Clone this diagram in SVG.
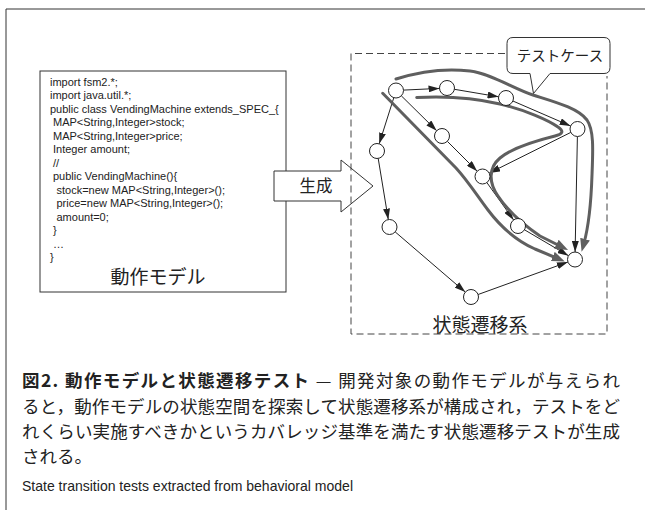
<svg xmlns="http://www.w3.org/2000/svg" width="645" height="510" viewBox="0 0 645 510">
<style>
.frame{fill:none;stroke:#333;stroke-width:1}
.code{font-family:"Liberation Sans",Arial,sans-serif;font-size:11px;fill:#222}
.jp{font-family:"Noto Sans CJK JP",sans-serif;fill:#222}
.node{fill:#fff;stroke:#222;stroke-width:1}
.edge{fill:none;stroke:#222;stroke-width:1;marker-end:url(#ah)}
.tc{fill:none;stroke:#5f5f5f;stroke-width:3;stroke-linecap:round;stroke-linejoin:round;marker-end:url(#gh)}
.dash{fill:none;stroke:#444;stroke-width:1;stroke-dasharray:7 4}
</style>
<defs>
<marker id="ah" markerUnits="userSpaceOnUse" viewBox="0 0 11 7" markerWidth="11" markerHeight="7" refX="11" refY="3.5" orient="auto">
<path d="M0,0 L11,3.5 L0,7 z" fill="#222"/>
</marker>
<marker id="gh" markerUnits="userSpaceOnUse" viewBox="0 0 13 10" markerWidth="13" markerHeight="10" refX="4" refY="5" orient="auto">
<path d="M0,0 L13,5 L0,10 z" fill="#5f5f5f"/>
</marker>
</defs>

<g id="outer-frame">
<path class="frame" d="M6,510 V9 H645"/>
</g>

<g id="behavior-model">
<rect class="frame" x="40" y="71" width="246" height="221" fill="#fff"/>
<text class="code" x="50" y="85.5">import fsm2.*;</text>
<text class="code" x="50" y="99">import java.util.*;</text>
<text class="code" x="50" y="112.5">public class VendingMachine extends_SPEC_{</text>
<text class="code" x="53" y="126">MAP&lt;String,Integer&gt;stock;</text>
<text class="code" x="53" y="139.5">MAP&lt;String,Integer&gt;price;</text>
<text class="code" x="53" y="153">Integer amount;</text>
<text class="code" x="53" y="166.5">//</text>
<text class="code" x="53" y="180">public VendingMachine(){</text>
<text class="code" x="56.5" y="193.5">stock=new MAP&lt;String,Integer&gt;();</text>
<text class="code" x="56.5" y="207">price=new MAP&lt;String,Integer&gt;();</text>
<text class="code" x="56.5" y="220.5">amount=0;</text>
<text class="code" x="53" y="234">}</text>
<text class="code" x="53" y="247.5">…</text>
<text class="code" x="50" y="261">}</text>
<text class="jp" x="158" y="284" font-size="19" text-anchor="middle">動作モデル</text>
</g>

<g id="generate-arrow">
<polygon points="274,171 341,171 341,160 373,186 341,212 341,201 274,201" fill="#fff" stroke="#333" stroke-width="1"/>
<text class="jp" x="316" y="192" font-size="16.5" text-anchor="middle">生成</text>
</g>

<g id="state-transition-system">
<path class="dash" d="M505,53.5 H351 V334 H607 V76"/>
<text class="jp" x="480" y="332" font-size="19" text-anchor="middle">状態遷移系</text>
</g>

<g id="connectors">
<line class="edge" x1="403.5" y1="90.1" x2="439.5" y2="88.4"/>
<line class="edge" x1="454.4" y1="89.3" x2="498.6" y2="96.8"/>
<line class="edge" x1="512.9" y1="101" x2="570.6" y2="126"/>
<line class="edge" x1="401.3" y1="95.8" x2="436.7" y2="130.7"/>
<line class="edge" x1="447.3" y1="141.3" x2="477.2" y2="171.2"/>
<line class="edge" x1="570.8" y1="132.4" x2="489.2" y2="173.1"/>
<line class="edge" x1="486.9" y1="182.6" x2="513.6" y2="219.9"/>
<line class="edge" x1="524.5" y1="229.8" x2="568.5" y2="255.7"/>
<line class="edge" x1="577.4" y1="136.5" x2="575.1" y2="252"/>
<line class="edge" x1="393.8" y1="97.7" x2="379.2" y2="143.8"/>
<line class="edge" x1="378.2" y1="158.4" x2="388.3" y2="219.6"/>
<line class="edge" x1="395.2" y1="231.9" x2="465.3" y2="292.1"/>
<line class="edge" x1="478.1" y1="294.5" x2="567.9" y2="262"/>
</g>

<g id="test-case-paths">
<path class="tc" d="M396,79 C418,72 445,68 470,71 C492,74 512,88 533,95 C555,102 578,108 587,120 C594,130 593,150 592,175 C591,205 589,225 584,243"/>
<path class="tc" d="M416.7,97.5 C445,96 475,98 500,104 C525,110 548,120 558,127 C564,131 563,134 555,136 C535,141 512,148 500,158 C488,168 489,183 498,196 C508,211 525,226 540,236 L560,246"/>
<path class="tc" d="M382.7,93.3 L456,168 C468,181 478,197 488,210 C500,226 515,240 535,249 L556.5,258"/>
</g>

<g id="nodes">
<g id="s1"><circle class="node" cx="396" cy="90.5" r="7.5"/></g>
<g id="s2"><circle class="node" cx="447" cy="88" r="7.5"/></g>
<g id="s3"><circle class="node" cx="506" cy="98" r="7.5"/></g>
<g id="s4"><circle class="node" cx="577.5" cy="129" r="7.5"/></g>
<g id="s5"><circle class="node" cx="442" cy="136" r="7.5"/></g>
<g id="s6"><circle class="node" cx="377" cy="151" r="7.5"/></g>
<g id="s7"><circle class="node" cx="482.5" cy="176.5" r="7.5"/></g>
<g id="s8"><circle class="node" cx="518" cy="226" r="7.5"/></g>
<g id="s9"><circle class="node" cx="389.5" cy="227" r="7.5"/></g>
<g id="s10"><circle class="node" cx="575" cy="259.5" r="7.5"/></g>
<g id="s11"><circle class="node" cx="471" cy="297" r="7.5"/></g>
</g>

<g id="test-case-callout">
<path d="M513,37.5 H604 Q610,37.5 610,43.5 V67.5 Q610,73.5 604,73.5 H550 L533.5,93.5 L530,73.5 H513 Q507,73.5 507,67.5 V43.5 Q507,37.5 513,37.5 Z" fill="#fff" stroke="#333" stroke-width="1"/>
<text class="jp" x="560" y="61" font-size="14.5" text-anchor="middle">テストケース</text>
</g>

<g id="caption">
<text class="jp" x="22" y="387" font-size="17.5" textLength="598" lengthAdjust="spacing"><tspan font-weight="bold">図2. 動作モデルと状態遷移テスト</tspan> — 開発対象の動作モデルが与えられ</text>
<text class="jp" x="22" y="412.5" font-size="17.5" textLength="598" lengthAdjust="spacing">ると，動作モデルの状態空間を探索して状態遷移系が構成され，テストをど</text>
<text class="jp" x="22" y="437.5" font-size="17.5" textLength="598" lengthAdjust="spacing">れくらい実施すべきかというカバレッジ基準を満たす状態遷移テストが生成</text>
<text class="jp" x="22" y="462.5" font-size="17.5">される。</text>
<text x="22" y="491" font-family="Liberation Sans, Arial, sans-serif" font-size="14.5" fill="#222" textLength="331" lengthAdjust="spacingAndGlyphs">State transition tests extracted from behavioral model</text>
</g>
</svg>
